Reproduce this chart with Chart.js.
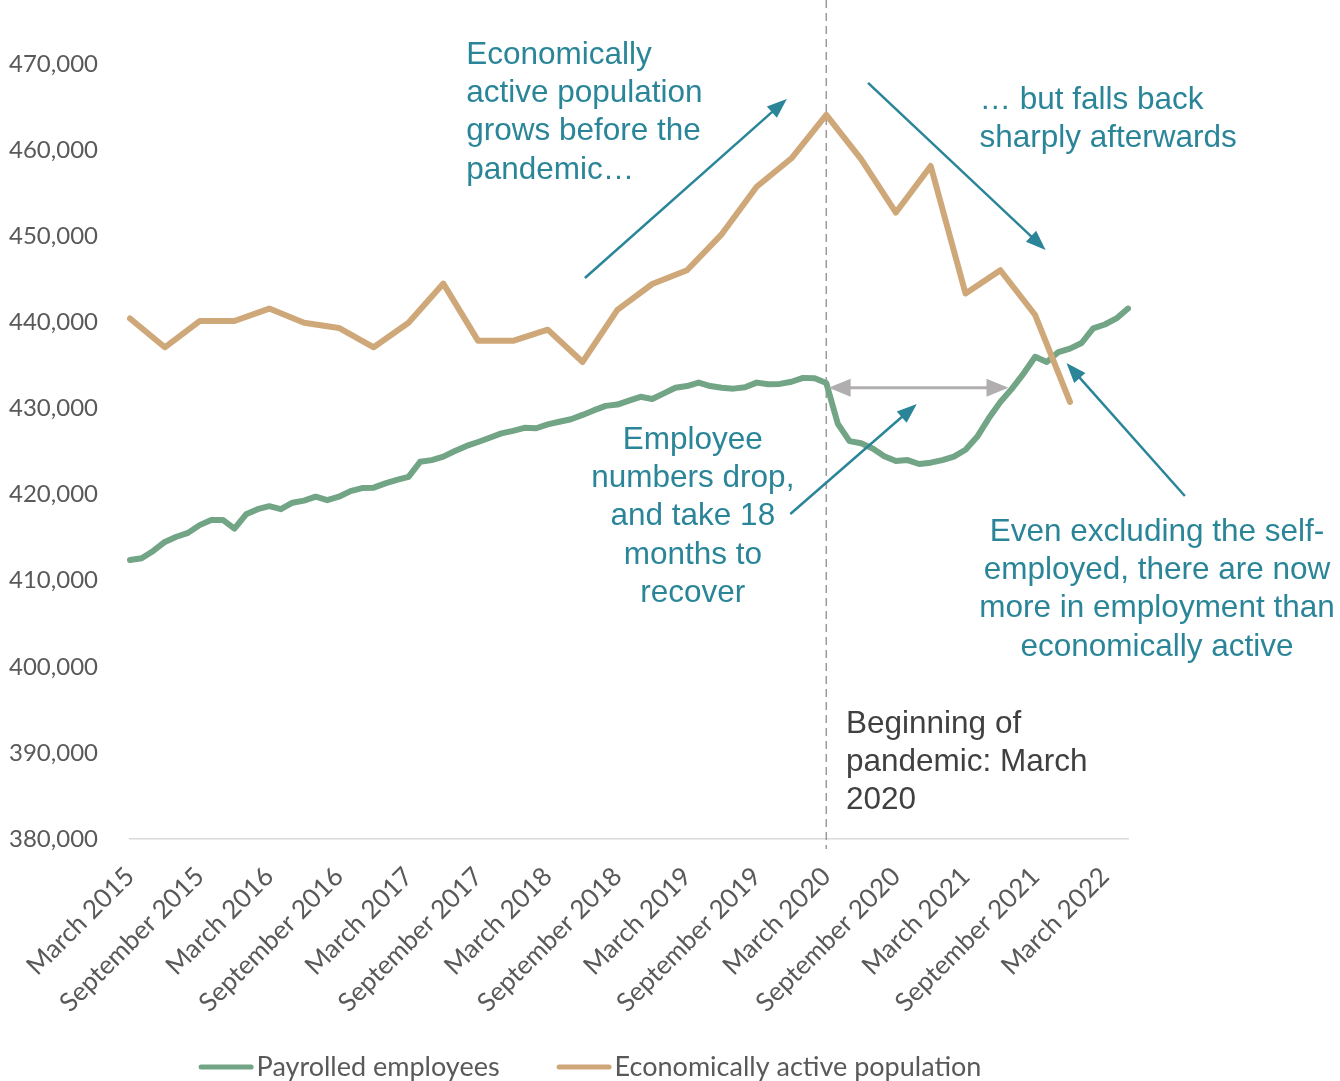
<!DOCTYPE html>
<html>
<head>
<meta charset="UTF-8">
<title>Payrolled employees and economically active population</title>
<script src="https://cdn.jsdelivr.net/npm/chart.js@4"></script>
<style>
  html, body { margin: 0; padding: 0; background: #fff; }
</style>
</head>
<body>
<canvas id="chart" width="1340" height="1081"></canvas>
<script>
// monthly categories, March 2015 to May 2022
const months = [
  'March 2015', 'April 2015', 'May 2015', 'June 2015', 'July 2015', 'August 2015', 'September 2015', 'October 2015', 'November 2015', 'December 2015',
  'January 2016', 'February 2016', 'March 2016', 'April 2016', 'May 2016', 'June 2016', 'July 2016', 'August 2016', 'September 2016', 'October 2016', 'November 2016', 'December 2016',
  'January 2017', 'February 2017', 'March 2017', 'April 2017', 'May 2017', 'June 2017', 'July 2017', 'August 2017', 'September 2017', 'October 2017', 'November 2017', 'December 2017',
  'January 2018', 'February 2018', 'March 2018', 'April 2018', 'May 2018', 'June 2018', 'July 2018', 'August 2018', 'September 2018', 'October 2018', 'November 2018', 'December 2018',
  'January 2019', 'February 2019', 'March 2019', 'April 2019', 'May 2019', 'June 2019', 'July 2019', 'August 2019', 'September 2019', 'October 2019', 'November 2019', 'December 2019',
  'January 2020', 'February 2020', 'March 2020', 'April 2020', 'May 2020', 'June 2020', 'July 2020', 'August 2020', 'September 2020', 'October 2020', 'November 2020', 'December 2020',
  'January 2021', 'February 2021', 'March 2021', 'April 2021', 'May 2021', 'June 2021', 'July 2021', 'August 2021', 'September 2021', 'October 2021', 'November 2021', 'December 2021',
  'January 2022', 'February 2022', 'March 2022', 'April 2022', 'May 2022'
];

// only these months get a label on the x axis
const tickLabels = [
  'March 2015', 'September 2015', 'March 2016', 'September 2016', 'March 2017', 'September 2017',
  'March 2018', 'September 2018', 'March 2019', 'September 2019', 'March 2020', 'September 2020',
  'March 2021', 'September 2021', 'March 2022'
];

const payrolled = [
  412400, 412600, 413450, 414500, 415100, 415550, 416450, 417050, 417050, 416050,
  417700, 418300, 418650, 418300, 419050, 419300, 419750, 419350, 419750, 420400, 420750, 420800,
  421300, 421700, 422050, 423800, 424000, 424400, 425050, 425650, 426100, 426600, 427100, 427400,
  427750, 427700, 428150, 428450, 428750, 429250, 429800, 430300, 430450, 430900, 431350, 431100,
  431750, 432400, 432600, 433000, 432600, 432400, 432300, 432450, 433000, 432800, 432850, 433100,
  433550, 433500, 432950, 428200, 426200, 425950, 425350, 424450, 423900, 424000, 423550, 423700,
  424000, 424400, 425200, 426700, 428850, 430750, 432300, 434050, 436000, 435400, 436550, 436950,
  437600, 439300, 439750, 440450, 441600
];

// the labour force survey figures are quarterly
const econMonths = [
  'March 2015', 'June 2015', 'September 2015', 'December 2015',
  'March 2016', 'June 2016', 'September 2016', 'December 2016',
  'March 2017', 'June 2017', 'September 2017', 'December 2017',
  'March 2018', 'June 2018', 'September 2018', 'December 2018',
  'March 2019', 'June 2019', 'September 2019', 'December 2019',
  'March 2020', 'June 2020', 'September 2020', 'December 2020',
  'March 2021', 'June 2021', 'September 2021', 'December 2021'
];
const econActive = [
  440450, 437100, 440150, 440150,
  441600, 439950, 439350, 437100,
  439950, 444500, 437850, 437850,
  439150, 435400, 441450, 444450,
  446050, 450250, 455750, 459050,
  464100, 458950, 452750, 458150,
  443350, 446050, 440850, 430750
];

const GREEN = '#72a486';
const TAN = '#cfa87a';
const TEAL = '#2a8598';
const GREY_TEXT = '#595959';
const NOTE_FONT = '31.5px "Liberation Sans", Arial, sans-serif';
const AXIS_FAMILY = 'Lato, "Open Sans", sans-serif';
const LEGEND_FONT = '27px Lato, "Open Sans", sans-serif';

// annotation positions are given as [month index, value]
const pandemicStart = 'March 2020';
const arrows = [
  { from: [39.2, 445150], to: [56.6, 465940] },
  { from: [63.6, 467800], to: [78.9, 448400] },
  { from: [56.9, 417740], to: [67.8, 430520] },
  { from: [90.9, 419830], to: [80.7, 435280] }
];
const recoverySpan = { from: 60.2, to: 75.7, value: 432400 };
const notes = [
  { at: [28.97, 471045], align: 'left', color: TEAL,
    lines: ['Economically', 'active population', 'grows before the', 'pandemic…'] },
  { at: [73.2, 465820], align: 'left', color: TEAL,
    lines: ['… but falls back', 'sharply afterwards'] },
  { at: [48.5, 426340], align: 'center', color: TEAL,
    lines: ['Employee', 'numbers drop,', 'and take 18', 'months to', 'recover'] },
  { at: [88.5, 415650], align: 'center', color: TEAL,
    lines: ['Even excluding the self-', 'employed, there are now', 'more in employment than', 'economically active'] },
  { at: [61.7, 393350], align: 'left', color: '#404040',
    lines: ['Beginning of', 'pandemic: March', '2020'] }
];

function drawArrow(ctx, x1, y1, x2, y2, color, width, headLen, headW, bothEnds) {
  const ang = Math.atan2(y2 - y1, x2 - x1);
  const head = (x, y, a) => {
    ctx.beginPath();
    ctx.moveTo(x, y);
    ctx.lineTo(x - headLen * Math.cos(a) + headW / 2 * Math.sin(a), y - headLen * Math.sin(a) - headW / 2 * Math.cos(a));
    ctx.lineTo(x - headLen * Math.cos(a) - headW / 2 * Math.sin(a), y - headLen * Math.sin(a) + headW / 2 * Math.cos(a));
    ctx.closePath();
    ctx.fill();
  };
  ctx.save();
  ctx.strokeStyle = color;
  ctx.fillStyle = color;
  ctx.lineWidth = width;
  ctx.beginPath();
  const sx = bothEnds ? x1 + (headLen - 2) * Math.cos(ang) : x1;
  const sy = bothEnds ? y1 + (headLen - 2) * Math.sin(ang) : y1;
  ctx.moveTo(sx, sy);
  ctx.lineTo(x2 - (headLen - 2) * Math.cos(ang), y2 - (headLen - 2) * Math.sin(ang));
  ctx.stroke();
  head(x2, y2, ang);
  if (bothEnds) head(x1, y1, ang + Math.PI);
  ctx.restore();
}

// legend row: short thick line, tight gap, label; whole row centred at legendCentre
function drawLegend(chart) {
  const { ctx } = chart;
  const legendCentre = 590, legendY = 1067, swatch = 55, gap = 3, spacing = 57;
  ctx.save();
  ctx.font = LEGEND_FONT;
  ctx.textBaseline = 'middle';
  ctx.textAlign = 'left';
  const items = chart.data.datasets.map(ds => ({
    text: ds.label, color: ds.borderColor, w: swatch + gap + ctx.measureText(ds.label).width
  }));
  const total = items.reduce((s, it) => s + it.w, 0) + spacing * (items.length - 1);
  let x = legendCentre - total / 2;
  items.forEach(it => {
    ctx.strokeStyle = it.color;
    ctx.lineWidth = 5;
    ctx.lineCap = 'round';
    ctx.beginPath();
    ctx.moveTo(x + 2.5, legendY);
    ctx.lineTo(x + swatch - 2.5, legendY);
    ctx.stroke();
    ctx.fillStyle = GREY_TEXT;
    ctx.fillText(it.text, x + swatch + gap, legendY);
    x += it.w + spacing;
  });
  ctx.restore();
}

const overlay = {
  id: 'overlay',
  beforeDatasetsDraw(chart) {
    const { ctx, chartArea } = chart;
    const x = chart.scales.x.getPixelForValue(months.indexOf(pandemicStart));
    ctx.save();
    ctx.strokeStyle = '#9a9a9a';
    ctx.lineWidth = 1.5;
    ctx.setLineDash([8, 5]);
    ctx.beginPath();
    ctx.moveTo(x, 0);
    ctx.lineTo(x, chartArea.bottom + 10);
    ctx.stroke();
    ctx.restore();
  },
  afterDatasetsDraw(chart) {
    const { ctx } = chart;
    const xs = chart.scales.x, ys = chart.scales.y;
    arrows.forEach(a => {
      drawArrow(ctx,
        xs.getPixelForValue(a.from[0]), ys.getPixelForValue(a.from[1]),
        xs.getPixelForValue(a.to[0]), ys.getPixelForValue(a.to[1]),
        TEAL, 2.5, 20, 15, false);
    });
    const y = ys.getPixelForValue(recoverySpan.value);
    drawArrow(ctx, xs.getPixelForValue(recoverySpan.from), y,
      xs.getPixelForValue(recoverySpan.to), y, '#b0aeae', 3, 22, 18, true);
  },
  afterDraw(chart) {
    const { ctx } = chart;
    const xs = chart.scales.x, ys = chart.scales.y;
    ctx.save();
    ctx.font = NOTE_FONT;
    ctx.textBaseline = 'middle';
    notes.forEach(n => {
      const x = xs.getPixelForValue(n.at[0]);
      const y = ys.getPixelForValue(n.at[1]);
      ctx.fillStyle = n.color;
      ctx.textAlign = n.align;
      n.lines.forEach((line, i) => ctx.fillText(line, x, y + i * 38.3));
    });
    ctx.restore();
    drawLegend(chart);
  }
};

new Chart(document.getElementById('chart'), {
  type: 'line',
  data: {
    labels: months,
    datasets: [
      {
        label: 'Payrolled employees',
        data: payrolled,
        borderColor: GREEN,
        backgroundColor: GREEN,
        borderWidth: 6,
        order: 2
      },
      {
        label: 'Economically active population',
        data: econMonths.map((m, i) => ({ x: m, y: econActive[i] })),
        borderColor: TAN,
        backgroundColor: TAN,
        borderWidth: 6,
        spanGaps: true,
        order: 1
      }
    ]
  },
  options: {
    responsive: false,
    animation: false,
    devicePixelRatio: 1,
    layout: { padding: { top: 64, left: 0, right: 212, bottom: 0 } },
    elements: {
      point: { radius: 0, hoverRadius: 0 },
      line: { tension: 0, borderJoinStyle: 'round', borderCapStyle: 'round' }
    },
    scales: {
      x: {
        type: 'category',
        grid: { display: false, drawTicks: false },
        border: { display: true, color: '#d9d9d9', width: 1.5 },
        ticks: {
          autoSkip: false,
          minRotation: 45,
          maxRotation: 45,
          padding: 22,
          color: GREY_TEXT,
          font: { family: AXIS_FAMILY, size: 26 },
          callback: (v, i) => tickLabels.includes(months[i]) ? months[i] : ''
        },
        afterFit: s => { s.height = 242; s.paddingLeft = 0; s.paddingRight = 0; }
      },
      y: {
        min: 380000,
        max: 470000,
        grid: { display: false, drawTicks: false },
        border: { display: false },
        ticks: {
          stepSize: 10000,
          padding: 32,
          color: GREY_TEXT,
          font: { family: AXIS_FAMILY, size: 24 },
          callback: v => v.toLocaleString('en-GB')
        },
        afterFit: s => { s.width = 130; }
      }
    },
    plugins: {
      tooltip: { enabled: false },
      legend: { display: false }
    }
  },
  plugins: [overlay]
});
</script>
</body>
</html>
